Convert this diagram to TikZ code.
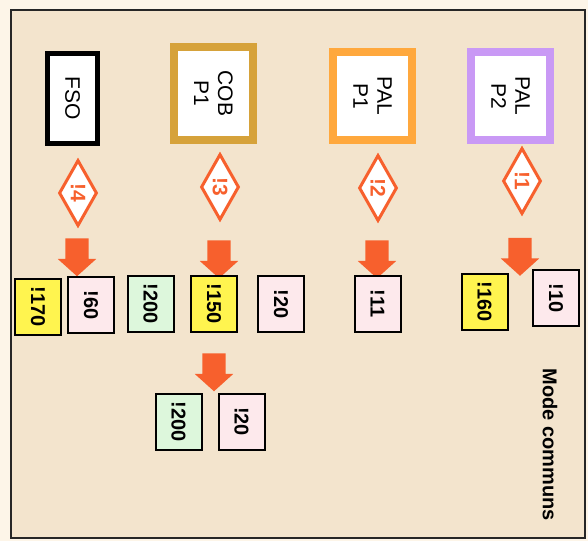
\documentclass[tikz,border=0pt]{standalone}
\usepackage{fontspec}
\setmainfont{Liberation Sans}
\usepackage{tikz}
\usetikzlibrary{shapes.geometric,shapes.arrows}

\definecolor{parch}{RGB}{243,228,205}
\definecolor{cream}{RGB}{253,245,232}
\definecolor{arrowred}{RGB}{247,96,45}
\definecolor{cobgold}{RGB}{214,162,58}
\definecolor{palorange}{RGB}{255,168,61}
\definecolor{pallilac}{RGB}{201,153,245}
\definecolor{valyellow}{RGB}{255,244,79}
\definecolor{valpink}{RGB}{253,233,236}
\definecolor{valgreen}{RGB}{221,247,220}

\tikzset{
  unit/.style={draw,fill=white,rotate=-90,align=center,inner sep=0pt,
    font=\fontsize{21}{24}\selectfont},
  prio/.style={diamond,aspect=1.75,draw=arrowred,line width=3pt,fill=white,rotate=-90,
    inner sep=0pt,minimum width=66pt,minimum height=38pt,text=arrowred,
    font=\fontsize{21}{21}\selectfont\bfseries},
  down/.style={single arrow,fill=arrowred,rotate=-90,inner xsep=0pt,inner ysep=11.5pt,
    minimum height=38pt,single arrow head extend=7.5pt,single arrow tip angle=96},
  val/.style={draw,line width=2pt,rotate=-90,inner sep=0pt,minimum width=56pt,
    minimum height=46pt,font=\fontsize{20}{20}\selectfont\bfseries},
}

\begin{document}
\begin{tikzpicture}[x=1pt,y=-1pt]
\fill[cream] (0,0) rectangle (588,541);
\draw[line width=2pt,draw=black!85,fill=parch] (11,10) rectangle (585,538);

% units
\node[unit,line width=5pt,minimum width=90pt,minimum height=50pt] (fso) at (72.5,98.5) {FSO};
\node[unit,draw=cobgold,line width=8pt,minimum width=93pt,minimum height=79pt] (cob) at (213.5,93.5) {COB\\P1};
\node[unit,draw=palorange,line width=8pt,minimum width=88pt,minimum height=79pt] (palA) at (372.5,96) {PAL\\P1};
\node[unit,draw=pallilac,line width=8pt,minimum width=88pt,minimum height=79pt] (palB) at (510.5,96) {PAL\\P2};

% priorities
\node[prio] (pfso) at (78,193) {!4};
\node[prio] (pcob) at (220,187) {!3};
\node[prio] (ppalA) at (378,188) {!2};
\node[prio] (ppalB) at (522,181) {!1};

% arrows
\node[down] (afso) at (77,252) {};
\node[down] (acob) at (219,254) {};
\node[down] (acobb) at (214,367) {};
\node[down] (apalA) at (377,254) {};
\node[down] (apalB) at (520,251.5) {};

% values
\node[val,fill=valyellow] (v170) at (38,307) {!170};
\node[val,fill=valpink] (v60) at (91,305) {!60};
\node[val,fill=valgreen] (v200) at (150.5,304) {!200};
\node[val,fill=valyellow] (v150) at (214,304) {!150};
\node[val,fill=valpink] (v20) at (281,304) {!20};
\node[val,fill=valpink] (v11) at (377.5,303.5) {!11};
\node[val,fill=valyellow] (v160) at (484.5,301.5) {!160};
\node[val,fill=valpink] (v10) at (556,298) {!10};
\node[val,fill=valgreen] (v200b) at (178.5,422) {!200};
\node[val,fill=valpink] (v20b) at (241.5,421.5) {!20};

\node[rotate=-90,font=\fontsize{20}{20}\selectfont\bfseries] (mode) at (550,445) {Mode communs};
\end{tikzpicture}
\end{document}
